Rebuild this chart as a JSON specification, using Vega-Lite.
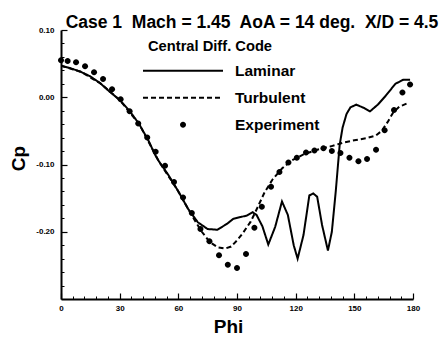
{
  "$schema": "https://vega.github.io/schema/vega-lite/v6.json",
  "autosize": {"type": "none"},
  "padding": {"left": 61, "top": 30, "right": 28, "bottom": 38},
  "width": 352,
  "height": 269,
  "background": "white",
  "config": {
    "view": {"stroke": null},
    "font": "Liberation Sans",
    "axis": {"grid": false, "domainColor": "black", "domainWidth": 2, "tickColor": "black", "labelColor": "black", "titleColor": "black", "labelFont": "Liberation Sans", "labelFontWeight": "bold", "labelFontSize": 8, "titleFont": "Liberation Sans", "titleFontWeight": "bold", "labelOverlap": false, "labelFlush": false}
  },
  "title": {
    "text": "Case 1\u00a0 Mach = 1.45\u00a0 AoA = 14 deg.\u00a0 X/D = 4.5",
    "font": "Liberation Sans",
    "fontSize": 17.5,
    "fontWeight": "bold",
    "color": "black",
    "anchor": "middle",
    "dx": 15,
    "offset": -5
  },
  "resolve": {"axis": {"x": "independent", "y": "independent"}},
  "datasets": {
    "curves": [
      {"phi": 0, "cp": 0.047, "series": "Laminar"},
      {"phi": 5, "cp": 0.043, "series": "Laminar"},
      {"phi": 10, "cp": 0.038, "series": "Laminar"},
      {"phi": 15, "cp": 0.031, "series": "Laminar"},
      {"phi": 20, "cp": 0.021, "series": "Laminar"},
      {"phi": 25, "cp": 0.008, "series": "Laminar"},
      {"phi": 30, "cp": -0.004, "series": "Laminar"},
      {"phi": 35, "cp": -0.020, "series": "Laminar"},
      {"phi": 40, "cp": -0.040, "series": "Laminar"},
      {"phi": 45, "cp": -0.066, "series": "Laminar"},
      {"phi": 48, "cp": -0.085, "series": "Laminar"},
      {"phi": 50, "cp": -0.095, "series": "Laminar"},
      {"phi": 55, "cp": -0.116, "series": "Laminar"},
      {"phi": 60, "cp": -0.140, "series": "Laminar"},
      {"phi": 65, "cp": -0.166, "series": "Laminar"},
      {"phi": 70, "cp": -0.186, "series": "Laminar"},
      {"phi": 75, "cp": -0.196, "series": "Laminar"},
      {"phi": 80, "cp": -0.197, "series": "Laminar"},
      {"phi": 85, "cp": -0.188, "series": "Laminar"},
      {"phi": 88, "cp": -0.181, "series": "Laminar"},
      {"phi": 92, "cp": -0.178, "series": "Laminar"},
      {"phi": 95, "cp": -0.176, "series": "Laminar"},
      {"phi": 98, "cp": -0.171, "series": "Laminar"},
      {"phi": 100, "cp": -0.175, "series": "Laminar"},
      {"phi": 103, "cp": -0.192, "series": "Laminar"},
      {"phi": 106, "cp": -0.219, "series": "Laminar"},
      {"phi": 109.5, "cp": -0.193, "series": "Laminar"},
      {"phi": 113, "cp": -0.155, "series": "Laminar"},
      {"phi": 116, "cp": -0.175, "series": "Laminar"},
      {"phi": 119, "cp": -0.220, "series": "Laminar"},
      {"phi": 121, "cp": -0.240, "series": "Laminar"},
      {"phi": 124, "cp": -0.205, "series": "Laminar"},
      {"phi": 127, "cp": -0.146, "series": "Laminar"},
      {"phi": 129, "cp": -0.143, "series": "Laminar"},
      {"phi": 131, "cp": -0.148, "series": "Laminar"},
      {"phi": 133.5, "cp": -0.190, "series": "Laminar"},
      {"phi": 136.5, "cp": -0.228, "series": "Laminar"},
      {"phi": 138.5, "cp": -0.200, "series": "Laminar"},
      {"phi": 140.5, "cp": -0.140, "series": "Laminar"},
      {"phi": 142.5, "cp": -0.071, "series": "Laminar"},
      {"phi": 144, "cp": -0.045, "series": "Laminar"},
      {"phi": 146, "cp": -0.025, "series": "Laminar"},
      {"phi": 148, "cp": -0.015, "series": "Laminar"},
      {"phi": 151, "cp": -0.011, "series": "Laminar"},
      {"phi": 155, "cp": -0.016, "series": "Laminar"},
      {"phi": 158, "cp": -0.021, "series": "Laminar"},
      {"phi": 162, "cp": -0.011, "series": "Laminar"},
      {"phi": 166, "cp": 0.002, "series": "Laminar"},
      {"phi": 171, "cp": 0.020, "series": "Laminar"},
      {"phi": 175, "cp": 0.026, "series": "Laminar"},
      {"phi": 178.5, "cp": 0.026, "series": "Laminar"},
      {"phi": 0, "cp": 0.047, "series": "Turbulent"},
      {"phi": 10, "cp": 0.038, "series": "Turbulent"},
      {"phi": 20, "cp": 0.021, "series": "Turbulent"},
      {"phi": 30, "cp": -0.004, "series": "Turbulent"},
      {"phi": 40, "cp": -0.040, "series": "Turbulent"},
      {"phi": 50, "cp": -0.095, "series": "Turbulent"},
      {"phi": 60, "cp": -0.140, "series": "Turbulent"},
      {"phi": 65, "cp": -0.166, "series": "Turbulent"},
      {"phi": 68, "cp": -0.181, "series": "Turbulent"},
      {"phi": 72, "cp": -0.200, "series": "Turbulent"},
      {"phi": 76, "cp": -0.215, "series": "Turbulent"},
      {"phi": 80, "cp": -0.223, "series": "Turbulent"},
      {"phi": 84, "cp": -0.225, "series": "Turbulent"},
      {"phi": 87, "cp": -0.222, "series": "Turbulent"},
      {"phi": 90, "cp": -0.213, "series": "Turbulent"},
      {"phi": 93, "cp": -0.202, "series": "Turbulent"},
      {"phi": 97, "cp": -0.185, "series": "Turbulent"},
      {"phi": 100, "cp": -0.167, "series": "Turbulent"},
      {"phi": 104, "cp": -0.142, "series": "Turbulent"},
      {"phi": 108, "cp": -0.123, "series": "Turbulent"},
      {"phi": 113, "cp": -0.106, "series": "Turbulent"},
      {"phi": 118, "cp": -0.094, "series": "Turbulent"},
      {"phi": 124, "cp": -0.085, "series": "Turbulent"},
      {"phi": 131, "cp": -0.078, "series": "Turbulent"},
      {"phi": 138, "cp": -0.073, "series": "Turbulent"},
      {"phi": 145, "cp": -0.067, "series": "Turbulent"},
      {"phi": 150, "cp": -0.064, "series": "Turbulent"},
      {"phi": 156, "cp": -0.061, "series": "Turbulent"},
      {"phi": 161, "cp": -0.057, "series": "Turbulent"},
      {"phi": 164, "cp": -0.050, "series": "Turbulent"},
      {"phi": 167, "cp": -0.037, "series": "Turbulent"},
      {"phi": 170, "cp": -0.022, "series": "Turbulent"},
      {"phi": 173, "cp": -0.014, "series": "Turbulent"},
      {"phi": 177, "cp": -0.009, "series": "Turbulent"}
    ],
    "experiment": [
      {"phi": 0, "cp": 0.055, "series": "Experiment"},
      {"phi": 3.4, "cp": 0.054, "series": "Experiment"},
      {"phi": 7.7, "cp": 0.052, "series": "Experiment"},
      {"phi": 12.3, "cp": 0.046, "series": "Experiment"},
      {"phi": 16.9, "cp": 0.037, "series": "Experiment"},
      {"phi": 21.5, "cp": 0.027, "series": "Experiment"},
      {"phi": 26.1, "cp": 0.012, "series": "Experiment"},
      {"phi": 30.5, "cp": -0.003, "series": "Experiment"},
      {"phi": 35.1, "cp": -0.021, "series": "Experiment"},
      {"phi": 39.5, "cp": -0.039, "series": "Experiment"},
      {"phi": 44.1, "cp": -0.060, "series": "Experiment"},
      {"phi": 48.4, "cp": -0.081, "series": "Experiment"},
      {"phi": 53.2, "cp": -0.102, "series": "Experiment"},
      {"phi": 57.8, "cp": -0.126, "series": "Experiment"},
      {"phi": 62.4, "cp": -0.149, "series": "Experiment"},
      {"phi": 66.9, "cp": -0.172, "series": "Experiment"},
      {"phi": 71.3, "cp": -0.196, "series": "Experiment"},
      {"phi": 75.9, "cp": -0.214, "series": "Experiment"},
      {"phi": 80.8, "cp": -0.235, "series": "Experiment"},
      {"phi": 85.3, "cp": -0.249, "series": "Experiment"},
      {"phi": 90.0, "cp": -0.254, "series": "Experiment"},
      {"phi": 94.6, "cp": -0.233, "series": "Experiment"},
      {"phi": 98.9, "cp": -0.194, "series": "Experiment"},
      {"phi": 102.7, "cp": -0.163, "series": "Experiment"},
      {"phi": 107.4, "cp": -0.133, "series": "Experiment"},
      {"phi": 111.7, "cp": -0.111, "series": "Experiment"},
      {"phi": 116.3, "cp": -0.097, "series": "Experiment"},
      {"phi": 120.6, "cp": -0.090, "series": "Experiment"},
      {"phi": 125.3, "cp": -0.082, "series": "Experiment"},
      {"phi": 129.6, "cp": -0.079, "series": "Experiment"},
      {"phi": 134.2, "cp": -0.076, "series": "Experiment"},
      {"phi": 138.5, "cp": -0.080, "series": "Experiment"},
      {"phi": 142.9, "cp": -0.083, "series": "Experiment"},
      {"phi": 147.5, "cp": -0.090, "series": "Experiment"},
      {"phi": 152.1, "cp": -0.095, "series": "Experiment"},
      {"phi": 156.5, "cp": -0.092, "series": "Experiment"},
      {"phi": 161.1, "cp": -0.078, "series": "Experiment"},
      {"phi": 165.5, "cp": -0.049, "series": "Experiment"},
      {"phi": 170.3, "cp": -0.019, "series": "Experiment"},
      {"phi": 174.6, "cp": 0.007, "series": "Experiment"},
      {"phi": 178.5, "cp": 0.019, "series": "Experiment"}
    ]
  },
  "layer": [
    {
      "data": {"name": "curves"},
      "mark": {"type": "line", "color": "black", "strokeWidth": 2, "clip": true},
      "encoding": {
        "x": {
          "field": "phi", "type": "quantitative",
          "scale": {"domain": [0, 180], "nice": false},
          "axis": {
            "orient": "bottom",
            "title": "Phi", "titleFontSize": 19, "titlePadding": 5, "titleX": 167,
            "values": [0, 30, 60, 90, 120, 150, 180],
            "tickSize": -6,
            "tickWidth": 1.2,
            "labelPadding": 11
          }
        },
        "y": {
          "field": "cp", "type": "quantitative",
          "scale": {"domain": [-0.3, 0.1], "nice": false},
          "axis": {
            "orient": "left",
            "title": "Cp", "titleFontSize": 19, "titleX": -33, "titleY": 128,
            "values": [-0.2, -0.1, 0, 0.1],
            "format": ".2f",
            "labelExpr": "replace(datum.label, '\u2212', '-')",
            "tickSize": -6,
            "tickWidth": 1.2,
            "labelPadding": 13
          }
        },
        "strokeDash": {
          "field": "series", "type": "nominal",
          "scale": {"domain": ["Laminar", "Turbulent"], "range": [[1, 0], [5, 3]]},
          "legend": null
        }
      }
    },
    {
      "data": {"name": "experiment"},
      "mark": {"type": "point", "filled": true, "color": "black", "size": 400, "opacity": 1, "strokeWidth": 0},
      "encoding": {
        "x": {
          "field": "phi", "type": "quantitative",
          "axis": {
            "orient": "bottom", "title": null, "labels": false, "domain": false,
            "values": [6,12,18,24,36,42,48,54,66,72,78,84,96,102,108,114,126,132,138,144,156,162,168,174],
            "tickSize": -3, "tickWidth": 1
          }
        },
        "y": {
          "field": "cp", "type": "quantitative",
          "axis": {
            "orient": "left", "title": null, "labels": false, "domain": false,
            "values": [-0.28,-0.26,-0.24,-0.22,-0.18,-0.16,-0.14,-0.12,-0.08,-0.06,-0.04,-0.02,0.02,0.04,0.06,0.08],
            "tickSize": -3, "tickWidth": 1
          }
        },
        "shape": {
          "field": "series", "type": "nominal",
          "scale": {
            "domain": ["Laminar", "Turbulent", "Experiment"],
            "range": [
              "M-4,-0.1L4,-0.1L4,0.1L-4,0.1Z",
              "M-4,-0.1L-3.5,-0.1L-3.5,0.1L-4,0.1ZM-3.2,-0.1L-2.7,-0.1L-2.7,0.1L-3.2,0.1ZM-2.4,-0.1L-1.9,-0.1L-1.9,0.1L-2.4,0.1ZM-1.6,-0.1L-1.1,-0.1L-1.1,0.1L-1.6,0.1ZM-0.8,-0.1L-0.3,-0.1L-0.3,0.1L-0.8,0.1ZM0,-0.1L0.5,-0.1L0.5,0.1L0,0.1ZM0.8,-0.1L1.3,-0.1L1.3,0.1L0.8,0.1ZM1.6,-0.1L2.1,-0.1L2.1,0.1L1.6,0.1ZM2.4,-0.1L2.9,-0.1L2.9,0.1L2.4,0.1ZM3.2,-0.1L3.7,-0.1L3.7,0.1L3.2,0.1Z",
              "M-0.3,0A0.3,0.3,0,1,0,0.3,0A0.3,0.3,0,1,0,-0.3,0Z"
            ]
          },
          "legend": {
            "orient": "none",
            "legendX": 87,
            "legendY": 9,
            "padding": 0,
            "title": "Central Diff. Code",
            "titleFont": "Liberation Sans",
            "titleFontSize": 14.7,
            "titleFontWeight": "bold",
            "titleColor": "black",
            "titlePadding": 7,
            "labelFont": "Liberation Sans",
            "labelFontSize": 15.5,
            "labelFontWeight": "bold",
            "labelColor": "black",
            "labelOffset": 42,
            "symbolOffset": 25,
            "symbolSize": 400,
            "symbolFillColor": "black",
            "symbolStrokeWidth": 0,
            "symbolOpacity": 1,
            "rowPadding": 8
          }
        }
      }
    }
  ]
}
